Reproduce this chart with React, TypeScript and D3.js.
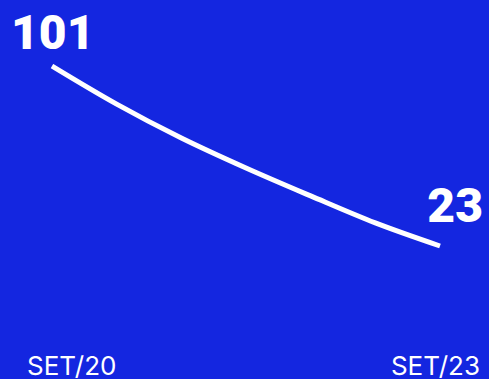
import React from "react";
import * as d3 from "d3";

const W = 489;
const H = 379;

const periods = ["SET/20", "MAR/21", "SET/21", "MAR/22", "SET/22", "MAR/23", "SET/23"];
const values = [101, 84.5, 69.8, 56.8, 44.7, 33, 23];
const axisLabels = ["SET/20", "SET/23"];

export default function App() {
  const x = d3.scalePoint<string>().domain(periods).range([52, 440]);
  const y = d3.scaleLinear().domain([23, 101]).range([246, 66]);
  const data = periods.map((p, i) => ({ p, v: values[i] }));
  const line = d3
    .line<{ p: string; v: number }>()
    .x((d) => x(d.p) as number)
    .y((d) => y(d.v))
    .curve(d3.curveMonotoneX);

  const first = data[0];
  const last = data[data.length - 1];

  return (
    <svg
      width={W}
      height={H}
      style={{ position: "fixed", left: 0, top: 0, display: "block" }}
    >
      <rect x={0} y={0} width={W} height={H} fill="#1426E0" />
      <path d={line(data) ?? ""} fill="none" stroke="#ffffff" strokeWidth={5} />
      <text
        x={(x(first.p) as number) - 41}
        y={y(first.v) - 17}
        fill="#ffffff"
        fontFamily="Roboto, sans-serif"
        fontWeight={900}
        fontSize={48}
      >
        {first.v}
      </text>
      <text
        x={(x(last.p) as number) + 43}
        y={y(last.v) - 24}
        fill="#ffffff"
        fontFamily="Roboto, sans-serif"
        fontWeight={900}
        fontSize={48}
        textAnchor="end"
      >
        {last.v}
      </text>
      <text
        x={27}
        y={375}
        fill="#ffffff"
        fontFamily="Inter, sans-serif"
        fontSize={26}
      >
        {axisLabels[0]}
      </text>
      <text
        x={480}
        y={375}
        fill="#ffffff"
        fontFamily="Inter, sans-serif"
        fontSize={26}
        textAnchor="end"
      >
        {axisLabels[1]}
      </text>
    </svg>
  );
}
